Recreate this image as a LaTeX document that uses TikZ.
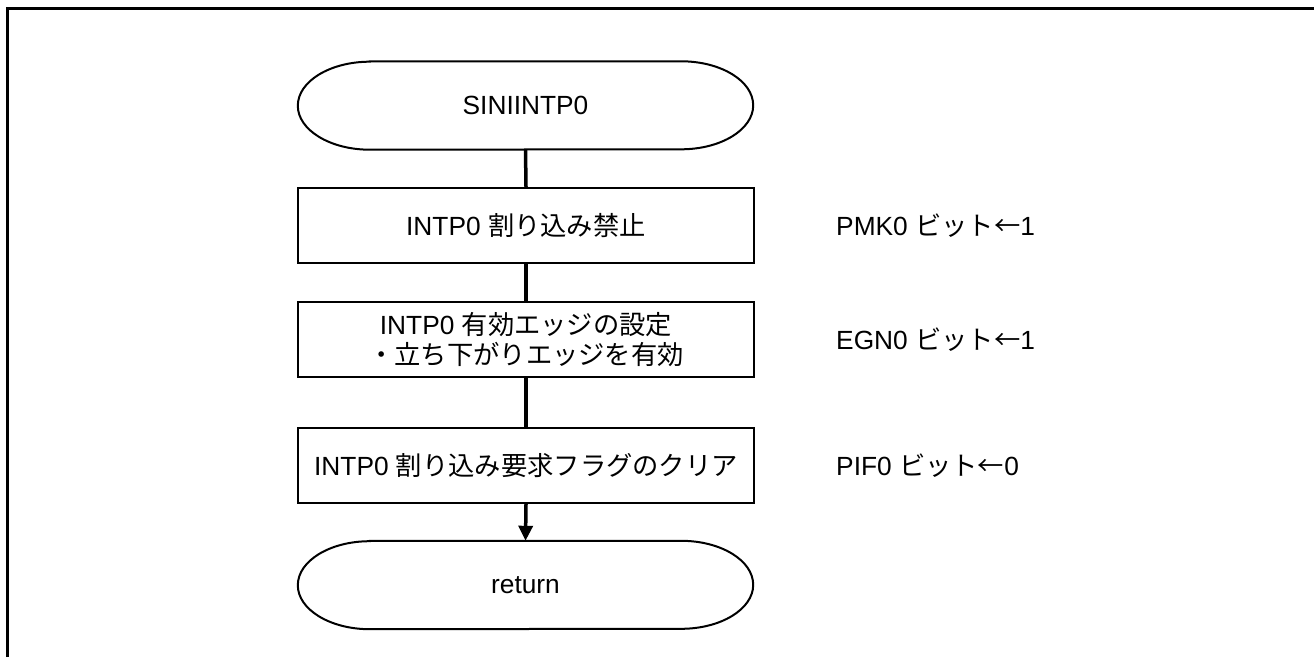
\documentclass[tikz,border=0pt]{standalone}
\usepackage{fontspec}
\setmainfont{Liberation Sans}
\newfontfamily\jp{Noto Sans CJK JP}
\usetikzlibrary{arrows.meta,calc}
\tikzset{
  txt/.style={font=\fontsize{26.3}{30}\selectfont, align=center, inner sep=0pt},
  procbox/.style={txt, draw, line width=2pt, minimum width=456pt, minimum height=75pt},
  termnode/.style={txt, minimum width=455pt, minimum height=88pt},
  termline/.style={line width=2pt},
  flow/.style={line width=3.5pt},
  flowarrow/.style={line width=3.5pt, -{Triangle[length=15pt,width=14pt]}},
  note/.style={txt, anchor=west},
  frameline/.style={line width=3pt}
}
\newcommand{\termshape}[1]{%
  \draw[termline] ($(#1.north west)+(72pt,0)$) -- ($(#1.north east)+(-72pt,0)$)
    arc[start angle=90,end angle=-90,x radius=72pt,y radius=44pt]
    -- ($(#1.south west)+(72pt,0)$)
    arc[start angle=270,end angle=90,x radius=72pt,y radius=44pt] -- cycle;}
\begin{document}
\begin{tikzpicture}[x=1pt,y=1pt]
\useasboundingbox (0,0) rectangle (1314,657);
\coordinate (fbl) at (7,0);
\coordinate (ftl) at (7,648);
\coordinate (ftr) at (1314,648);
\draw[frameline] (fbl) -- (ftl) -- (ftr);

\node[termnode] (start) at (525.5,551.5) {SINIINTP0};
\termshape{start}
\node[procbox] (b1) at (526,431.5) {INTP0 {\jp 割り込み禁止}};
\node[procbox] (b2) at (526,317.5) {INTP0 {\jp 有効エッジの設定}\\{\jp ・立ち下がりエッジを有効}};
\node[procbox] (b3) at (526,191.5) {INTP0 {\jp 割り込み要求フラグのクリア}};
\node[termnode] (ret) at (525.5,72) {return};
\termshape{ret}

\draw[flow] (start.south) -- (b1.north);
\draw[flow] (b1.south) -- (b2.north);
\draw[flow] (b2.south) -- (b3.north);
\draw[flowarrow] (b3.south) -- (ret.north);

\node[note] (n1) at (836,431.5) {PMK0 {\jp ビット←}1};
\node[note] (n2) at (836,317) {EGN0 {\jp ビット←}1};
\node[note] (n3) at (836,191.5) {PIF0 {\jp ビット←}0};
\end{tikzpicture}
\end{document}
